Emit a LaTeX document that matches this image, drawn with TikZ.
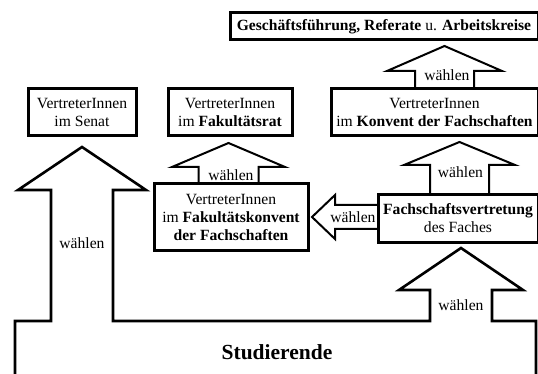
\documentclass[tikz,border=0pt]{standalone}
\usepackage{fontspec}
\setmainfont{Liberation Serif}
\begin{document}
\begin{tikzpicture}[x=1pt,y=-1pt,
  every node/.style={font=\fontsize{15.6}{18}\selectfont, align=center, inner sep=0pt},
  box/.style={draw, line width=3pt, fill=white, line join=miter},
  blockarrow/.style={draw, line width=2pt, fill=white, line join=miter},
  outline/.style={draw, line width=2.6pt, line join=miter}]
\useasboundingbox (0,0) rectangle (538,374);

% block arrows between boxes (drawn first, boxes cover the shaft ends)
\draw[blockarrow] (415,89) -- (415,71) -- (387,71) -- (444.5,46) -- (502,71) -- (474,71) -- (474,89);
\draw[blockarrow] (430,195) -- (430,165) -- (404,165) -- (459.5,142) -- (515,165) -- (489,165) -- (489,195);
\draw[blockarrow] (198.5,184) -- (198.5,167) -- (172,167) -- (228.5,143) -- (285,167) -- (258.5,167) -- (258.5,184);
\draw[blockarrow] (378,205) -- (335,205) -- (335,195) -- (312,217) -- (335,239) -- (335,229) -- (378,229);

% Studierende with its two arrows
\draw[outline] (15,400) -- (15,321) -- (51,321) -- (51,190) -- (18,190) -- (82,147) -- (146,190) -- (113,190) -- (113,321)
  -- (430,321) -- (430,290) -- (399,290) -- (461,248) -- (523,290) -- (492,290) -- (492,321) -- (536,321) -- (536,400);

% boxes
\node[box, minimum width=308pt, minimum height=27pt] (G) at (384,26.5)
  {\textbf{Geschäftsführung, Referate} u. \textbf{Arbeitskreise}};
\node[box, minimum width=108pt, minimum height=47pt] (senat) at (82,112.5)
  {VertreterInnen\\im Senat};
\node[box, minimum width=124pt, minimum height=47pt] (fakrat) at (230,112.5)
  {VertreterInnen\\im \textbf{Fakultätsrat}};
\node[box, minimum width=207pt, minimum height=47pt] (konvent) at (434.5,112.5)
  {VertreterInnen\\im \textbf{Konvent der Fachschaften}};
\node[box, minimum width=154pt, minimum height=66pt] (fakkonv) at (231,217)
  {VertreterInnen\\im \textbf{Fakultätskonvent}\\\textbf{der Fachschaften}};
\node[box, minimum width=160pt, minimum height=47pt] (fachvertr) at (458,218.5)
  {\textbf{Fachschaftsvertretung}\\des Faches};

% labels
\node (w1) at (447,75) {wählen};
\node (w2) at (460.5,172) {wählen};
\node (w3) at (231,175) {wählen};
\node (w4) at (353,217) {wählen};
\node (w5) at (82,243) {wählen};
\node (w6) at (461,305) {wählen};
\node[font=\fontsize{21.5}{24}\selectfont\bfseries] (stud) at (277,352) {Studierende};
\end{tikzpicture}
\end{document}
